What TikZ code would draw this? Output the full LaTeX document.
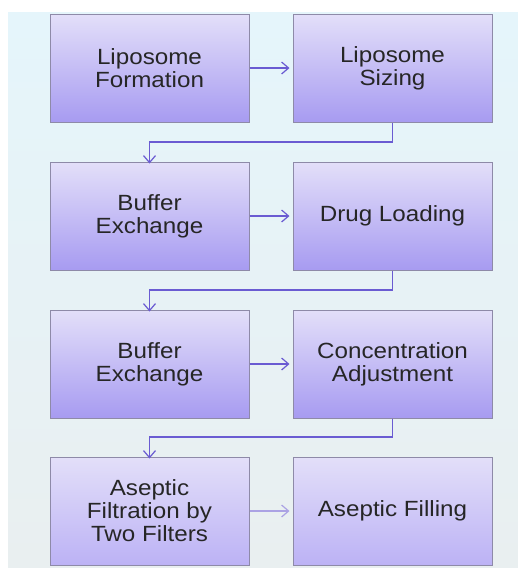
\documentclass[tikz,border=0pt]{standalone}
\usepackage{fontspec}
\setmainfont{Liberation Sans}[FakeStretch=1.1]
\usetikzlibrary{arrows.meta}
\definecolor{boxtop}{HTML}{E3DFF9}
\definecolor{boxbot}{HTML}{A79BF1}
\definecolor{boxbotlight}{HTML}{BCB2F5}
\definecolor{boxline}{HTML}{8E8AA8}
\definecolor{conn}{HTML}{6A5BD2}
\definecolor{connlight}{HTML}{ABA3E4}
\definecolor{panelA}{HTML}{E5F5FB}
\definecolor{panelB}{HTML}{E9EFF0}
\tikzset{
  stepbox/.style={draw=boxline, line width=1pt, top color=boxtop, bottom color=boxbot,
    minimum width=199pt, minimum height=108pt, inner sep=0pt, align=center,
    font=\fontsize{22}{23}\selectfont, text=black!85},
  lastbox/.style={stepbox, bottom color=boxbotlight},
  conline/.style={draw=conn, line width=1.4pt, -{Straight Barb[length=7pt,width=12pt,line width=1.2pt]}},
  conlight/.style={conline, draw=connlight}
}
\begin{document}
\begin{tikzpicture}[x=1pt,y=-1pt]
\useasboundingbox (0,0) rectangle (518,568);
\fill[white] (0,0) rectangle (518,568);
\shade[top color=panelA, bottom color=panelB] (8,12) rectangle (518,568);
\node[stepbox] (a) at (149.5,68) {Liposome\\Formation};
\node[stepbox] (b) at (392.5,68) {Liposome\\Sizing};
\node[stepbox] (c) at (149.5,216) {Buffer\\Exchange};
\node[stepbox] (d) at (392.5,216) {Drug Loading};
\node[stepbox] (e) at (149.5,364) {Buffer\\Exchange};
\node[stepbox] (f) at (392.5,364) {Concentration\\Adjustment};
\node[lastbox] (g) at (149.5,511) {Aseptic\\Filtration by\\Two Filters};
\node[lastbox] (h) at (392.5,511) {Aseptic Filling};
\draw[conline] (a.east) -- ([xshift=-3pt]b.west);
\draw[conline] (c.east) -- ([xshift=-3pt]d.west);
\draw[conline] (e.east) -- ([xshift=-3pt]f.west);
\draw[conlight] (g.east) -- ([xshift=-3pt]h.west);
\draw[conline] (b.south) |- (149.5,142) -- ([yshift=-2pt]c.north);
\draw[conline] (d.south) |- (149.5,290) -- ([yshift=-2pt]e.north);
\draw[conline] (f.south) |- (149.5,437) -- ([yshift=-2pt]g.north);
\end{tikzpicture}
\end{document}
